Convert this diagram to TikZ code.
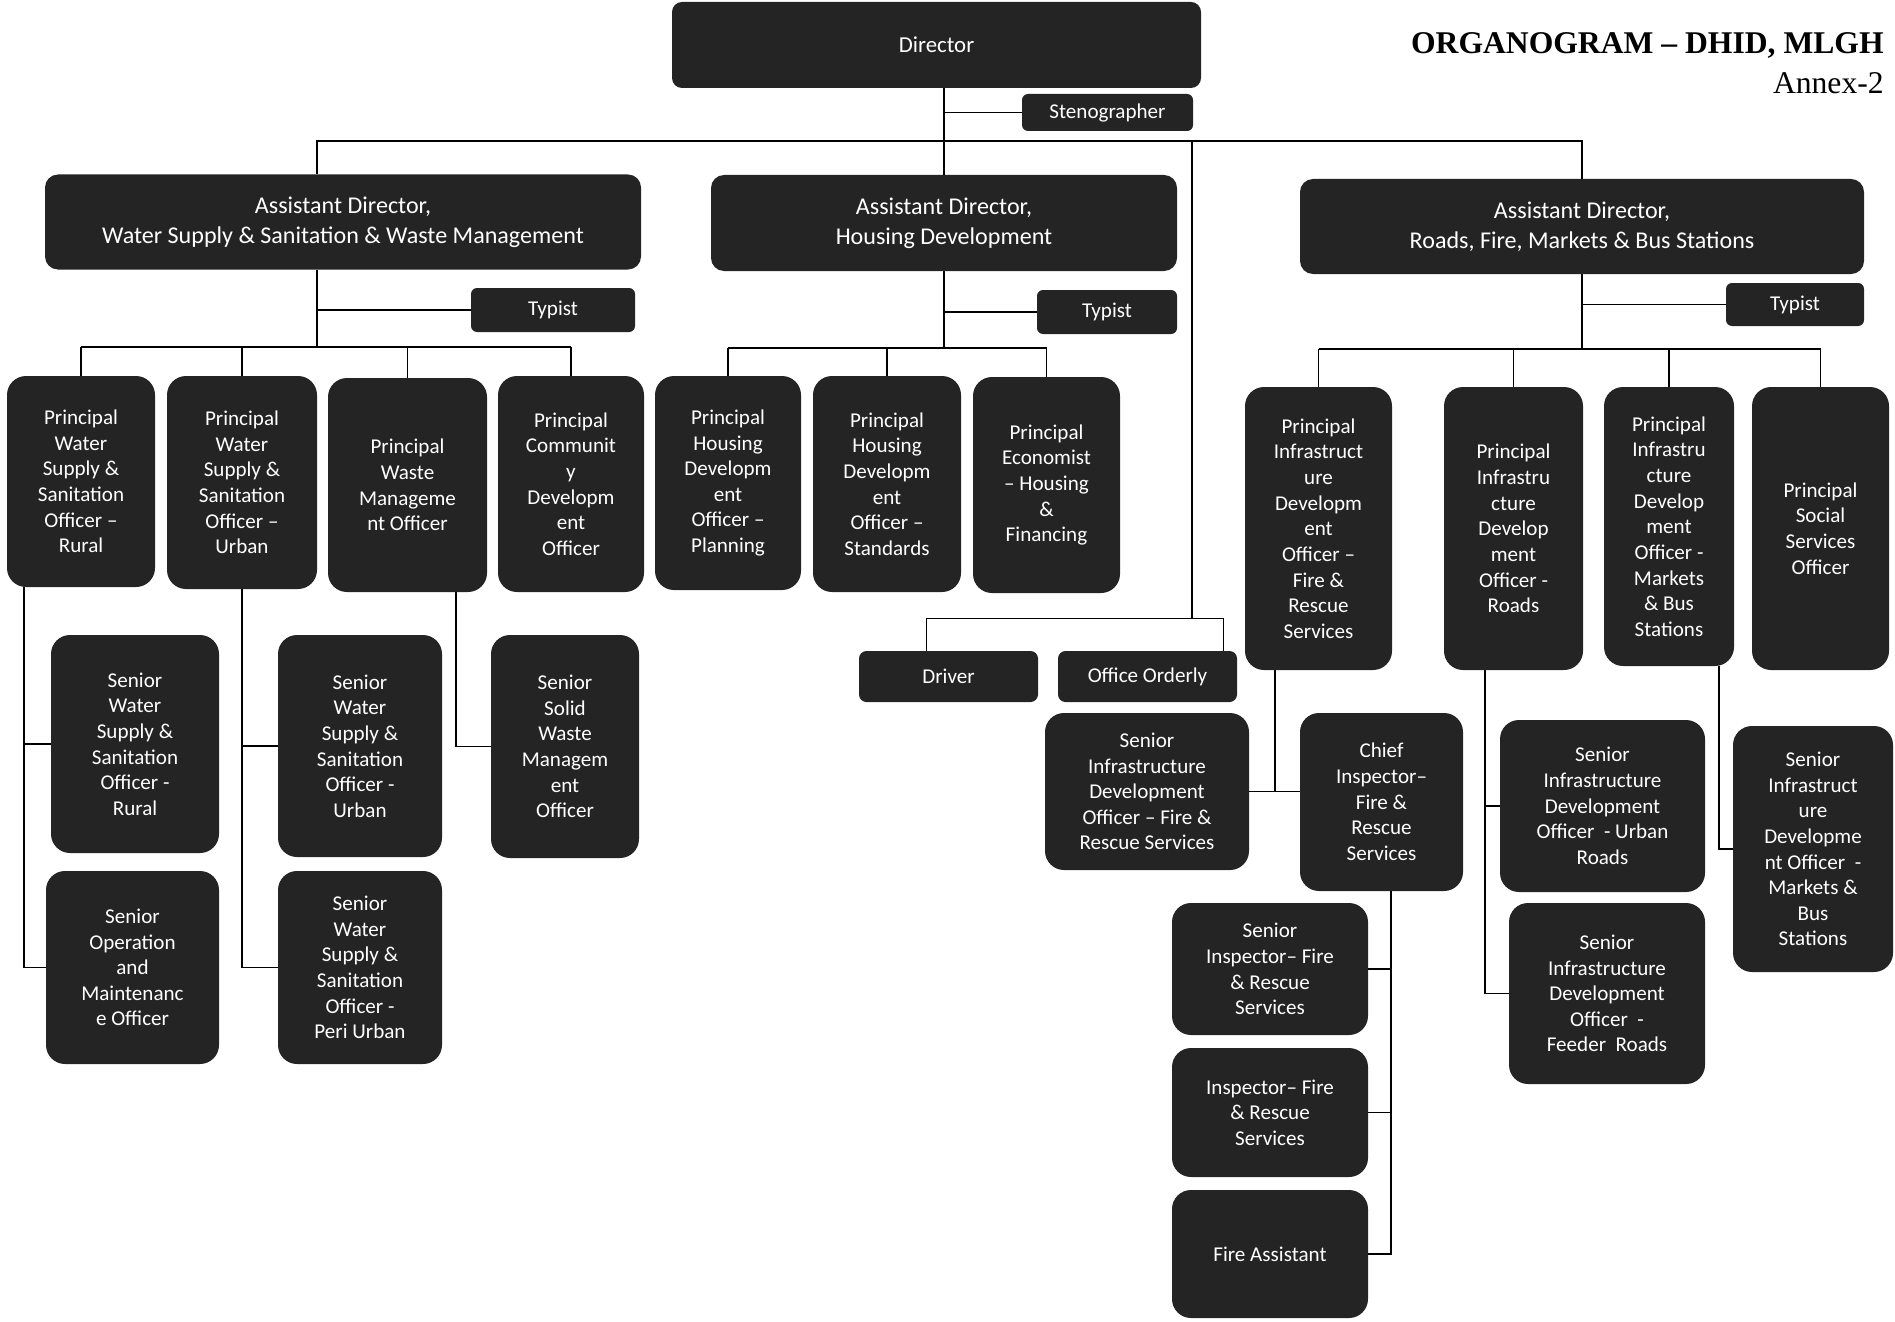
\documentclass[tikz,border=0pt]{standalone}
\usepackage{fontspec}
\setmainfont{Carlito}
\newfontfamily\titlefont{Liberation Serif}
\usetikzlibrary{calc}
\definecolor{boxgray}{RGB}{36,36,36}
\tikzset{
  postbox/.style={fill=boxgray, text=white, rounded corners=0.38cm, align=center, inner sep=0pt, font=\fontsize{12}{14.6}\selectfont},
  headbox/.style={postbox, rounded corners=0.26cm, font=\fontsize{13.7}{17}\selectfont},
  smallbox/.style={postbox, rounded corners=0.12cm},
  wh/.style 2 args={minimum width=#1*0.02cm, minimum height=#2*0.02cm},
  link/.style={line width=0.8pt}
}
\begin{document}
\begin{tikzpicture}[x=0.02cm,y=-0.02cm]
    \useasboundingbox (0,0) rectangle (1895,1321);
    \node[anchor=east, inner sep=0pt, font={\fontsize{18}{21}\selectfont\titlefont\bfseries}] (title) at (1884,45) {ORGANOGRAM – DHID, MLGH};
    \node[anchor=east, inner sep=0pt, font={\fontsize{18}{21}\selectfont\titlefont}] (annex) at (1884,83) {Annex-2};

    \node[headbox, rounded corners=0.2cm, font=\fontsize{13}{16}\selectfont, wh={529}{86}] (dir) at (936.5,45) {Director};
    \node[smallbox, wh={171}{37}] (steno) at (1107.5,112.5) {Stenographer};

    \node[headbox, wh={596}{95}] (ad1) at (343,222) {Assistant Director,\\Water Supply \& Sanitation \& Waste Management};
    \node[headbox, wh={466}{96}] (ad2) at (944,223) {Assistant Director,\\Housing Development};
    \node[headbox, wh={564}{95}] (ad3) at (1582,226.5) {Assistant Director,\\Roads, Fire, Markets \& Bus Stations};

    \node[smallbox, wh={164}{44}] (ty1) at (553,310) {Typist};
    \node[smallbox, wh={140}{44}] (ty2) at (1107,312) {Typist};
    \node[smallbox, wh={138}{43}] (ty3) at (1795,304.5) {Typist};

    \node[postbox, wh={148}{211}] (p1) at (81,481.5) {Principal\\Water\\Supply \&\\Sanitation\\Officer –\\Rural};
    \node[postbox, wh={150}{213}] (p2) at (242,482.5) {Principal\\Water\\Supply \&\\Sanitation\\Officer –\\Urban};
    \node[postbox, wh={159}{214}] (p3) at (407.5,485) {Principal\\Waste\\Manageme\\nt Officer};
    \node[postbox, wh={146}{216}] (p4) at (571,484) {Principal\\Communit\\y\\Developm\\ent\\Officer};
    \node[postbox, wh={146}{214}] (p5) at (728,483) {Principal\\Housing\\Developm\\ent\\Officer –\\Planning};
    \node[postbox, wh={148}{216}] (p6) at (887,484) {Principal\\Housing\\Developm\\ent\\Officer –\\Standards};
    \node[postbox, wh={147}{216}] (p7) at (1046.5,485) {Principal\\Economist\\– Housing\\\&\\Financing};
    \node[postbox, wh={147}{283}] (p8) at (1318.5,528.5) {Principal\\Infrastruct\\ure\\Developm\\ent\\Officer –\\Fire \&\\Rescue\\Services};
    \node[postbox, wh={139}{283}] (p9) at (1513.5,528.5) {Principal\\Infrastru\\cture\\Develop\\ment\\Officer -\\Roads};
    \node[postbox, wh={130}{279}] (p10) at (1669,526.5) {Principal\\Infrastru\\cture\\Develop\\ment\\Officer -\\Markets\\\& Bus\\Stations};
    \node[postbox, wh={137}{283}] (p11) at (1820.5,528.5) {Principal\\Social\\Services\\Officer};

    \node[smallbox, rounded corners=0.15cm, wh={179}{51}] (drv) at (948.5,676.5) {Driver};
    \node[smallbox, rounded corners=0.15cm, wh={179}{51}] (ord) at (1147.5,676.5) {Office Orderly};

    \node[postbox, wh={168}{218}] (swr) at (135,744) {Senior\\Water\\Supply \&\\Sanitation\\Officer -\\Rural};
    \node[postbox, wh={173}{193}] (som) at (132.5,967.5) {Senior\\Operation\\and\\Maintenanc\\e Officer};
    \node[postbox, wh={164}{222}] (swu) at (360,746) {Senior\\Water\\Supply \&\\Sanitation\\Officer -\\Urban};
    \node[postbox, wh={164}{193}] (swp) at (360,967.5) {Senior\\Water\\Supply \&\\Sanitation\\Officer -\\Peri Urban};
    \node[postbox, wh={148}{223}] (ssw) at (565,746.5) {Senior\\Solid\\Waste\\Managem\\ent\\Officer};

    \node[postbox, wh={204}{157}] (sif) at (1147,791.5) {Senior\\Infrastructure\\Development\\Officer – Fire \&\\Rescue Services};
    \node[postbox, wh={163}{178}] (chf) at (1381.5,802) {Chief\\Inspector–\\Fire \&\\Rescue\\Services};
    \node[postbox, wh={196}{132}] (sinsp) at (1270,969) {Senior\\Inspector– Fire\\\& Rescue\\Services};
    \node[postbox, wh={196}{129}] (insp) at (1270,1112.5) {Inspector– Fire\\\& Rescue\\Services};
    \node[postbox, wh={196}{128}] (fa) at (1270,1254) {Fire Assistant};
    \node[postbox, wh={205}{172}] (sur) at (1602.5,806) {Senior\\Infrastructure\\Development\\Officer \ - Urban\\Roads};
    \node[postbox, wh={196}{181}] (sfr) at (1607,993.5) {Senior\\Infrastructure\\Development\\Officer \ -\\Feeder \ Roads};
    \node[postbox, wh={160}{246}] (smk) at (1813,849) {Senior\\Infrastruct\\ure\\Developme\\nt Officer \ -\\Markets \&\\Bus\\Stations};

    \coordinate (bar) at (0,141);
    \coordinate (lev1) at (0,347);
    \coordinate (lev2) at (0,348);
    \coordinate (lev3) at (0,349);
    \coordinate (ad1x) at (317,0);
    \coordinate (oox) at (1192,619);
    \coordinate (p1x) at (24,0);
    \coordinate (p3x) at (456,0);
    \coordinate (p8x) at (1275,0);
    \coordinate (chx) at (1391,0);
    \coordinate (p9x) at (1485,0);
    \coordinate (p10x) at (1719,0);

    \draw[link] (dir.south -| ad2.north) -- (ad2.north);
    \draw[link] (steno.west) -- (steno.west -| ad2.north);
    \draw[link] (ad1.north -| ad1x) -- (ad1x |- bar) -- (ad3.north |- bar) -- (ad3.north);
    \draw[link] (oox |- bar) -- (oox);
    \draw[link] ($(drv.north)+(-22,0)$) -- ($(drv.north)+(-22,-32)$) -- ($(ord.north)+(76,-32)$) -- ($(ord.north)+(76,0)$);

    \draw[link] (ad1.south -| ad1x) -- (ad1x |- lev1);
    \draw[link] (ty1.west) -- (ty1.west -| ad1x);
    \draw[link] (p1.north |- lev1) -- (p4.north |- lev1);
    \foreach \c in {p1,p2,p3,p4}
      \draw[link] (\c.north) -- (\c.north |- lev1);

    \draw[link] (ad2.south) -- (ad2.south |- lev2);
    \draw[link] (ty2.west) -- (ty2.west -| ad2.south);
    \draw[link] (p5.north |- lev2) -- (p7.north |- lev2);
    \foreach \c in {p5,p6,p7}
      \draw[link] (\c.north) -- (\c.north |- lev2);

    \draw[link] (ad3.south) -- (ad3.south |- lev3);
    \draw[link] (ty3.west) -- (ty3.west -| ad3.south);
    \draw[link] (p8.north |- lev3) -- (p11.north |- lev3);
    \foreach \c in {p8,p9,p10,p11}
      \draw[link] (\c.north) -- (\c.north |- lev3);

    \draw[link] (p1.south -| p1x) -- (p1x |- som.west) -- (som.west);
    \draw[link] (p1x |- swr.west) -- (swr.west);
    \draw[link] (p2.south) -- (p2.south |- swp.west) -- (swp.west);
    \draw[link] (p2.south |- swu.west) -- (swu.west);
    \draw[link] (p3.south -| p3x) -- (p3x |- ssw.west) -- (ssw.west);

    \draw[link] (p8.south -| p8x) -- (p8x |- sif.east);
    \draw[link] (sif.east) -- (chf.west |- sif.east);
    \draw[link] (chf.south -| chx) -- (chx |- fa.east) -- (fa.east);
    \draw[link] (chx |- sinsp.east) -- (sinsp.east);
    \draw[link] (chx |- insp.east) -- (insp.east);

    \draw[link] (p9.south -| p9x) -- (p9x |- sfr.west) -- (sfr.west);
    \draw[link] (p9x |- sur.west) -- (sur.west);
    \draw[link] (p10.south -| p10x) -- (p10x |- smk.west) -- (smk.west);
\end{tikzpicture}
\end{document}
